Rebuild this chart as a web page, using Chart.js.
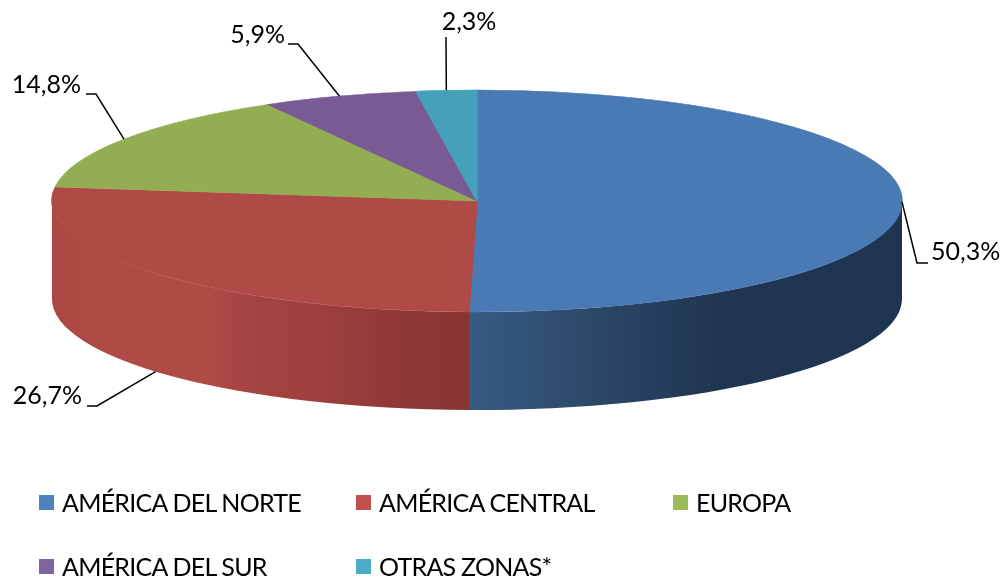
<!DOCTYPE html>
<html lang="es">
<head>
    <meta charset="UTF-8">
    <title>Zonas</title>
    <script src="https://cdn.jsdelivr.net/npm/chart.js"></script>
    <style>
        html, body { margin: 0; padding: 0; background: #fff; overflow: hidden; }
        #wrap { position: relative; width: 1006px; height: 580px; }
        #legend { position: absolute; left: 39px; top: 470px; display: grid;
                  grid-template-columns: repeat(3, 317px); grid-auto-rows: 64px;
                  font: 25px Lato, sans-serif; letter-spacing: -0.75px; color: #000; }
        #legend div { display: flex; align-items: center; white-space: nowrap; }
        #legend i { width: 15px; height: 15px; margin-right: 8px; flex: none; }
    </style>
</head>
<body>
    <div id="wrap">
        <canvas id="pie" width="1006" height="580"></canvas>
        <div id="legend"></div>
    </div>

    <script>
        const zonas = ["AMÉRICA DEL NORTE", "AMÉRICA CENTRAL", "EUROPA", "AMÉRICA DEL SUR", "OTRAS ZONAS*"];
        const valores = [50.3, 26.7, 14.8, 5.9, 2.3];

        const colorCara = ["#4a7ab4", "#b04a46", "#93ad52", "#795a94", "#45a0ba"];
        const colorLeyenda = ["#4f81bd", "#c0504d", "#9bbb59", "#8064a2", "#4bacc6"];

        // wall shading, [x, colour] from left to right
        const paredRoja = [[52, "#aa4643"], [72, "#ad4845"], [80, "#b04a46"], [215, "#b04a46"], [235, "#a64542"], [320, "#9e403e"], [400, "#8f3836"], [470, "#873533"]];
        const paredAzul = [[470, "#375b84"], [600, "#2b4766"], [720, "#203550"], [902, "#1f3450"]];

        // projection of the flat pie to the tilted disc
        const cx = 477, cy = 201, rx = 425, ry = 111, fondo = 98;

        // leader lines: points after the rim anchor, and where the text sits
        const guias = [
            { puntos: [[917, 263], [928, 263]], texto: [931, 252], alinear: "left", enPared: false },
            { puntos: [[97, 406], [87, 406]], texto: [82, 396], alinear: "right", enPared: true },
            { puntos: [[96, 94], [86, 94]], texto: [81, 85], alinear: "right", enPared: false },
            { puntos: [[298, 44], [288, 44]], texto: [285, 35], alinear: "right", enPared: false },
            { puntos: [[446, 37]], texto: [469, 22], alinear: "center", enPared: false }
        ];

        function rellenoPared(ctx, tramos) {
            const g = ctx.createLinearGradient(tramos[0][0], 0, tramos[tramos.length - 1][0], 0);
            const ancho = tramos[tramos.length - 1][0] - tramos[0][0];
            tramos.forEach(t => g.addColorStop((t[0] - tramos[0][0]) / ancho, t[1]));
            return g;
        }

        const disco3d = {
            id: "disco3d",
            beforeDatasetsDraw(chart) {
                const ctx = chart.ctx;
                const arcos = chart.getDatasetMeta(0).data;

                // side wall, only the front half of the rim can be seen
                [paredAzul, paredRoja].forEach((tramos, i) => {
                    const a0 = Math.max(arcos[i].startAngle, 0);
                    const a1 = Math.min(arcos[i].endAngle, Math.PI);
                    ctx.beginPath();
                    ctx.ellipse(cx, cy, rx, ry, 0, a0, a1);
                    ctx.ellipse(cx, cy + fondo, rx, ry, 0, a1, a0, true);
                    ctx.closePath();
                    ctx.fillStyle = rellenoPared(ctx, tramos);
                    ctx.fill();
                });

                const a = arcos[0];
                ctx.save();
                ctx.translate(cx, cy);
                ctx.scale(rx / a.outerRadius, ry / a.outerRadius);
                ctx.translate(-a.x, -a.y);
            },
            afterDatasetsDraw(chart) {
                const ctx = chart.ctx;
                ctx.restore();

                chart.getDatasetMeta(0).data.forEach((arco, i) => {
                    const medio = (arco.startAngle + arco.endAngle) / 2;
                    const g = guias[i];
                    const inicio = [cx + rx * Math.cos(medio), cy + ry * Math.sin(medio) + (g.enPared ? fondo : 0)];

                    ctx.beginPath();
                    ctx.moveTo(inicio[0], inicio[1]);
                    g.puntos.forEach(p => ctx.lineTo(p[0], p[1]));
                    ctx.strokeStyle = "#000";
                    ctx.lineWidth = 1.5;
                    ctx.stroke();

                    ctx.fillStyle = "#000";
                    ctx.font = "25px Lato, sans-serif";
                    ctx.textAlign = g.alinear;
                    ctx.textBaseline = "middle";
                    ctx.fillText(valores[i].toFixed(1).replace(".", ",") + "%", g.texto[0], g.texto[1]);
                });
            }
        };

        new Chart(document.getElementById("pie"), {
            type: "pie",
            data: {
                labels: zonas,
                datasets: [{
                    data: valores,
                    backgroundColor: colorCara,
                    borderColor: colorCara,
                    borderWidth: 1,
                    clip: false
                }]
            },
            options: {
                responsive: false,
                animation: false,
                plugins: { legend: { display: false }, tooltip: { enabled: false } }
            },
            plugins: [disco3d]
        });

        // legend goes in a fixed grid, the built-in one doesn't line up columns
        document.getElementById("legend").innerHTML = zonas.map((z, i) =>
            `<div><i style="background:${colorLeyenda[i]}"></i>${z}</div>`).join("");
    </script>
</body>
</html>
